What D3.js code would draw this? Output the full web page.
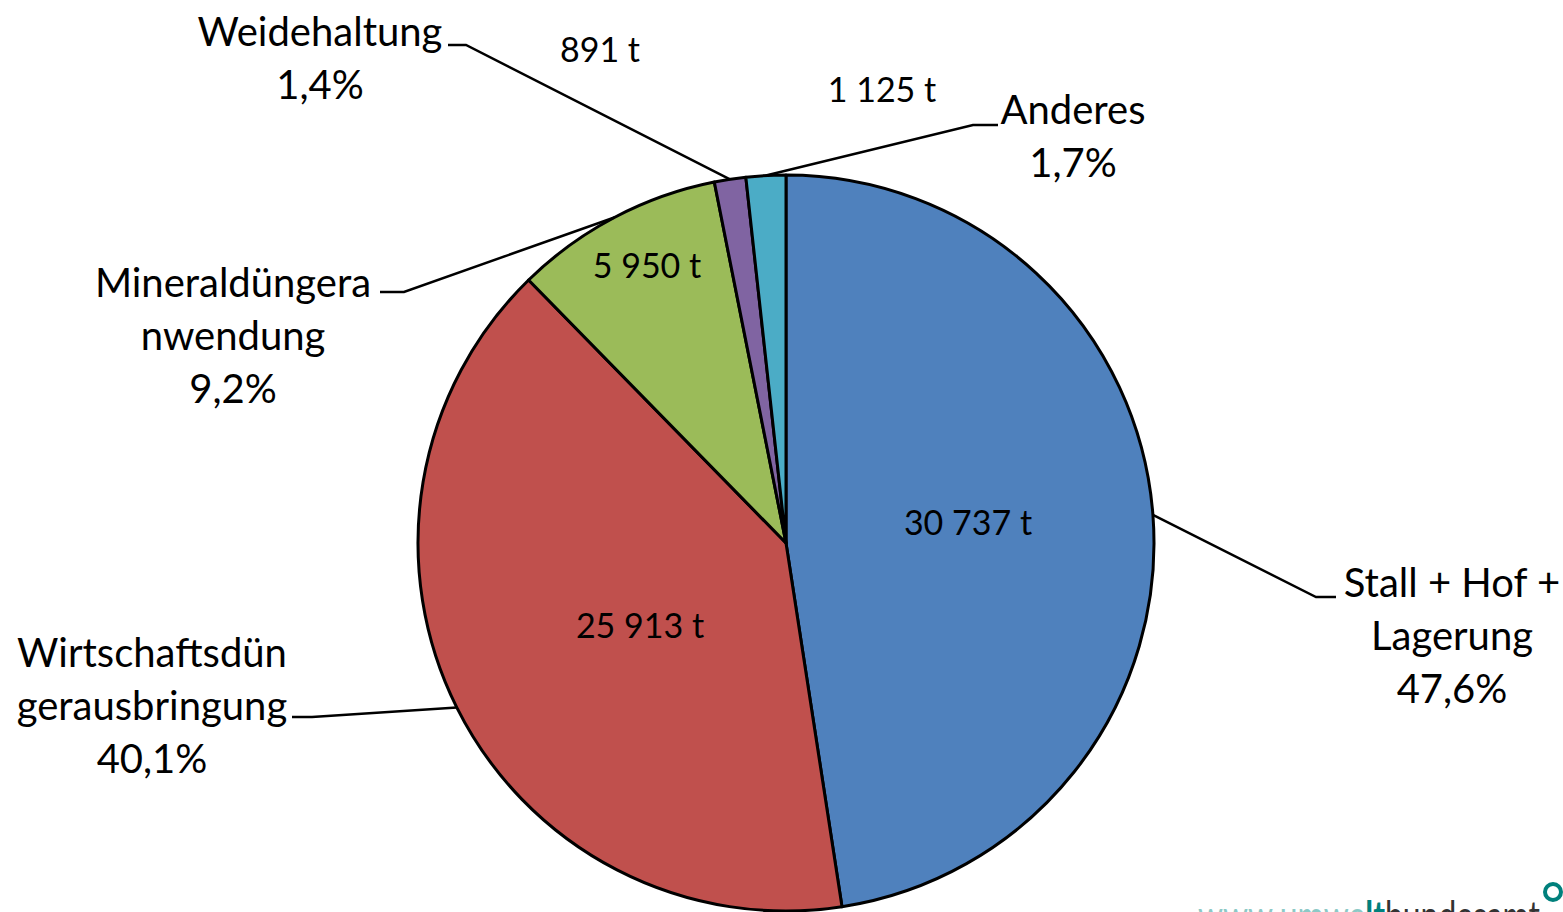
<!DOCTYPE html>
<html>
<head>
<meta charset="utf-8">
<script src="https://cdn.jsdelivr.net/npm/d3@7"></script>
<style>
  html, body { margin: 0; padding: 0; background: #fff; }
  svg { display: block; }
  text { font-family: Lato, "Open Sans", sans-serif; fill: #000; }
</style>
</head>
<body>
<div id="chart"></div>
<script>
// Data
const categories = ["Stall + Hof + Lagerung", "Wirtschaftsdüngerausbringung", "Mineraldüngeranwendung", "Weidehaltung", "Anderes"];
const values = [30737, 25913, 5950, 891, 1125];
const valueLabels = ["30 737 t", "25 913 t", "5 950 t", "891 t", "1 125 t"];
const percentLabels = ["47,6%", "40,1%", "9,2%", "1,4%", "1,7%"];
const nameLines = [["Stall + Hof +", "Lagerung"], ["Wirtschaftsdün", "gerausbringung"], ["Mineraldüngera", "nwendung"], ["Weidehaltung"], ["Anderes"]];

// Layout
const W = 1563, H = 912;
const cx = 786, cy = 543, R = 368;
const colors = ["#4F81BD", "#C0504D", "#9BBB59", "#8064A2", "#4BACC6"];
const fontSize = 40, lineH = 53;
// where the category label block sits (center x, first line center y), and the elbow of its leader
const nameLayout = [
  {x: 1452, y: 583, elbow: [1316, 597], end: [1336, 597]},
  {x: 152, y: 653, elbow: [312, 717], end: [292, 717]},
  {x: 233, y: 283, elbow: [404, 292], end: [380, 292]},
  {x: 320, y: 32, elbow: [466, 45], end: [448, 45]},
  {x: 1073, y: 110, elbow: [973, 125], end: [998, 125]}
];
// value label offsets from the pie center
const valueLayout = [
  [182, -20], [-146, 83], [-139, -277], [-186, -493], [96, -453]
];

const svg = d3.select("#chart").append("svg")
  .attr("width", W).attr("height", H);

const pie = d3.pie().sort(null).value(d => d);
const arcs = pie(values);
const arc = d3.arc().innerRadius(0).outerRadius(R);

const g = svg.append("g").attr("transform", `translate(${cx},${cy})`);

g.selectAll("path.slice")
  .data(arcs)
  .enter().append("path")
  .attr("class", "slice")
  .attr("d", arc)
  .attr("fill", (d, i) => colors[i])
  .attr("stroke", "#000")
  .attr("stroke-width", 3)
  .attr("stroke-linejoin", "round");

function polar(a, r) {
  return [Math.sin(a) * r, -Math.cos(a) * r];
}

// leader lines
arcs.forEach((d, i) => {
  const mid = (d.startAngle + d.endAngle) / 2;
  const p = polar(mid, R);
  const L = nameLayout[i];
  const pts = [[p[0] + cx, p[1] + cy], L.elbow, L.end];
  svg.append("path")
    .attr("d", d3.line()(pts))
    .attr("fill", "none")
    .attr("stroke", "#000")
    .attr("stroke-width", 2.5);
});

// value labels
arcs.forEach((d, i) => {
  const p = valueLayout[i];
  svg.append("text")
    .attr("x", cx + p[0])
    .attr("y", cy + p[1])
    .attr("dy", "0.35em")
    .attr("text-anchor", "middle")
    .style("font-size", fontSize * 0.85 + "px")
    .text(valueLabels[i]);
});

// category labels
nameLines.forEach((lines, i) => {
  const L = nameLayout[i];
  const t = svg.append("text")
    .attr("text-anchor", "middle")
    .style("font-size", fontSize + "px");
  lines.concat([percentLabels[i]]).forEach((s, j) => {
    t.append("tspan")
      .attr("x", L.x)
      .attr("y", L.y + j * lineH)
      .attr("dy", "0.35em")
      .text(s);
  });
});

// cut-off logo at the bottom
const logo = svg.append("text")
  .attr("x", 1198).attr("y", 930)
  .attr("textLength", 342)
  .attr("lengthAdjust", "spacingAndGlyphs")
  .style("font-size", "40px");
logo.append("tspan").style("fill", "#8cc9c6").text("www.umwe");
logo.append("tspan").style("fill", "#00807c").style("font-weight", "bold").text("lt");
logo.append("tspan").style("fill", "#333").text("bundesamt");
svg.append("circle")
  .attr("cx", 1553).attr("cy", 892).attr("r", 8)
  .attr("fill", "none").attr("stroke", "#00807c").attr("stroke-width", 4);
</script>
</body>
</html>
